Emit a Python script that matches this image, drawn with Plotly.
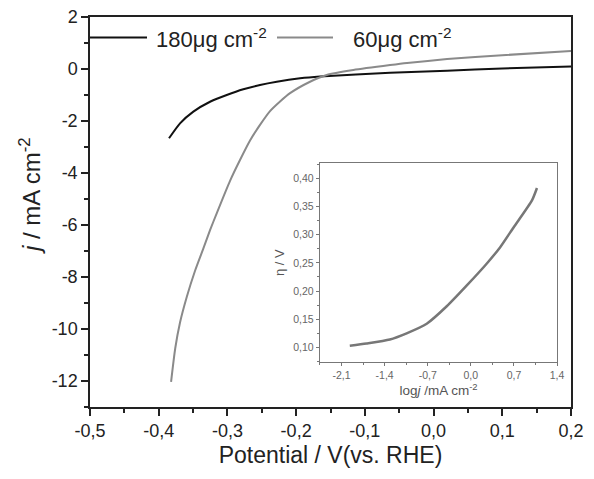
import plotly.graph_objects as go

# Main plot data (Potential vs RHE, current density)
v_180 = [-0.385, -0.369, -0.3496, -0.3253, -0.301, -0.2769, -0.2526, -0.2282, -0.1943, -0.1652, -0.0633, 0.0197, 0.1, 0.2]
j_180 = [-2.665, -2.09, -1.64, -1.26, -1.0, -0.78, -0.615, -0.49, -0.36, -0.29, -0.14, -0.065, 0.02, 0.10]

v_60 = [-0.382, -0.376, -0.369, -0.359, -0.347, -0.335, -0.3253, -0.3156, -0.2962, -0.2817, -0.2671, -0.2526,
        -0.2380, -0.2234, -0.2089, -0.1798, -0.1555, -0.1167, -0.0633, -0.0386, 0.0197, 0.1, 0.2]
j_60 = [-12.03, -10.75, -9.75, -8.75, -7.75, -6.9, -6.2, -5.55, -4.3, -3.5, -2.75, -2.15,
        -1.62, -1.25, -0.93, -0.49, -0.23, -0.04, 0.15, 0.23, 0.38, 0.53, 0.69]

# Inset (Tafel plot)
logj = [-1.965, -1.693, -1.314, -1.042, -0.716, -0.391, -0.065, 0.260, 0.477, 0.694, 0.993, 1.074]
eta = [0.103, 0.107, 0.114, 0.125, 0.142, 0.173, 0.210, 0.249, 0.278, 0.313, 0.361, 0.383]

x_ticks = [-0.5, -0.4, -0.3, -0.2, -0.1, 0.0, 0.1, 0.2]
y_ticks = [2, 0, -2, -4, -6, -8, -10, -12]
ix_ticks = [-2.1, -1.4, -0.7, 0.0, 0.7, 1.4]
iy_ticks = [0.10, 0.15, 0.20, 0.25, 0.30, 0.35, 0.40]

def fmt(v, d):
    return f"{v:.{d}f}".replace(".", ",")

fig = go.Figure()
fig.add_trace(go.Scatter(x=v_180, y=j_180, mode="lines",
                         line=dict(color="#111111", width=2, shape="spline", smoothing=0.6),
                         showlegend=False))
fig.add_trace(go.Scatter(x=v_60, y=j_60, mode="lines",
                         line=dict(color="#8a8a8a", width=2, shape="spline", smoothing=0.6),
                         showlegend=False))
fig.add_trace(go.Scatter(x=logj, y=eta, mode="lines",
                         line=dict(color="#777777", width=2.5, shape="spline", smoothing=0.6),
                         xaxis="x2", yaxis="y2", showlegend=False))

font_main = "Liberation Sans, Arial, sans-serif"

# page has an 8px body margin; margins compensate for it
fig.update_layout(
    width=594, height=479,
    margin=dict(l=82, r=31, t=9, b=80, autoexpand=False),
    plot_bgcolor="white", paper_bgcolor="white",
    font=dict(family=font_main, color="#222222"),
    xaxis=dict(range=[-0.5, 0.2], tickvals=x_ticks, ticktext=[fmt(v, 1) for v in x_ticks], automargin=False,
               ticklabeloverflow="allow",
               ticks="outside", ticklen=7, tickwidth=1.5, tickcolor="#222",
               minor=dict(dtick=0.05, tick0=-0.5, ticks="outside", ticklen=4, tickwidth=1.5, tickcolor="#222"),
               showline=True, linecolor="#222", linewidth=1.5, mirror=True, showgrid=False, zeroline=False,
               tickfont=dict(size=18),
               title=dict(text="Potential / V(vs. RHE)", font=dict(size=23), standoff=7)),
    yaxis=dict(range=[-13, 2], tickvals=y_ticks, ticktext=[str(v) for v in y_ticks], automargin=False,
               ticklabeloverflow="allow",
               ticks="outside", ticklen=7, tickwidth=1.5, tickcolor="#222",
               minor=dict(dtick=1, tick0=0, ticks="outside", ticklen=4, tickwidth=1.5, tickcolor="#222"),
               showline=True, linecolor="#222", linewidth=1.5, mirror=True, showgrid=False, zeroline=False,
               tickfont=dict(size=18)),
    xaxis2=dict(domain=[0.478, 0.971], anchor="y2", range=[-2.45, 1.4], tickvals=ix_ticks, automargin=False,
                ticktext=[fmt(v, 1) for v in ix_ticks], ticks="outside", ticklen=3, tickcolor="#777",
                minor=dict(dtick=0.35, tick0=-2.1, ticks="outside", ticklen=2, tickcolor="#777"),
                showline=True, linecolor="#777", linewidth=1.2, mirror=True, showgrid=False, zeroline=False,
                tickfont=dict(size=10.5, color="#666"),
                title=dict(text="log<i>j</i> /mA cm<sup>-2</sup>", font=dict(size=13.5, color="#555"), standoff=1)),
    yaxis2=dict(domain=[0.1154, 0.625], anchor="x2", range=[0.074, 0.427], tickvals=iy_ticks, automargin=False,
                ticktext=[fmt(v, 2) for v in iy_ticks], ticks="outside", ticklen=3, tickcolor="#777",
                minor=dict(dtick=0.025, tick0=0.1, ticks="outside", ticklen=2, tickcolor="#777"),
                showline=True, linecolor="#777", linewidth=1.2, mirror=True, showgrid=False, zeroline=False,
                tickfont=dict(size=10.5, color="#666"),
                title=dict(text="η / V", font=dict(size=13, color="#555"), standoff=5)),
)

# Main y-axis title placed as rotated text (sits above plot centre in the reference)
fig.add_annotation(xref="paper", yref="paper", x=(30 - 90) / 481, y=(407 - 196) / 390,
                   xanchor="center", yanchor="middle", textangle=-90, showarrow=False,
                   text="<i>j</i> / mA cm<sup>-2</sup>", font=dict(size=24, color="#222"))

# Legend drawn as glyphs + text at the top of the plot
ly = (407 - 37.5) / 390
fig.add_shape(type="line", xref="paper", yref="paper", x0=0.0, x1=(147 - 90) / 481, y0=ly, y1=ly,
              line=dict(color="#111111", width=2))
fig.add_shape(type="line", xref="paper", yref="paper", x0=(277 - 90) / 481, x1=(333 - 90) / 481, y0=ly, y1=ly,
              line=dict(color="#8a8a8a", width=2))
fig.add_annotation(xref="paper", yref="paper", x=(154 - 90) / 481, y=ly, xanchor="left", yanchor="middle",
                   text="180μg cm<sup>-2</sup>", showarrow=False, font=dict(size=22, color="#222"))
fig.add_annotation(xref="paper", yref="paper", x=(351 - 90) / 481, y=ly, xanchor="left", yanchor="middle",
                   text="60μg cm<sup>-2</sup>", showarrow=False, font=dict(size=22, color="#222"))

fig.write_html("out.html")
